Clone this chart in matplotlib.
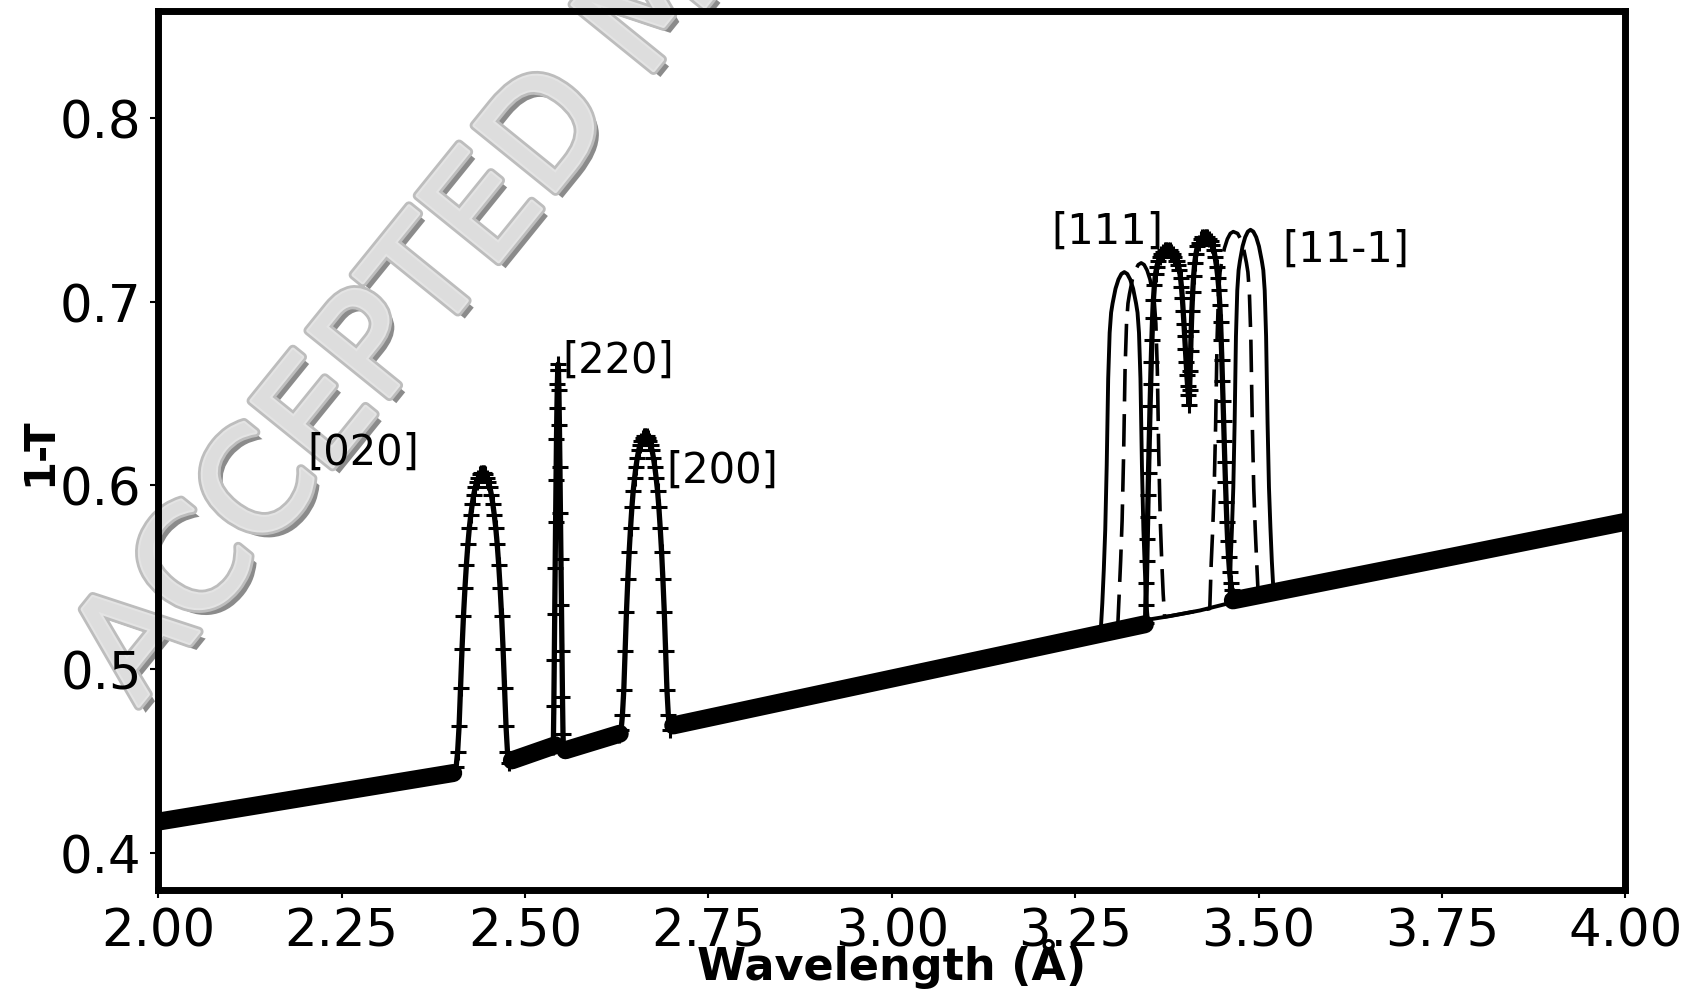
import numpy as np
import matplotlib.pyplot as plt
import matplotlib.patheffects as pe

# smooth absorption background (thick band); NaN breaks it under the Bragg peaks
base_lam = [2.000, 2.402, np.nan, 2.482, 2.541, np.nan, 2.555, 2.629, np.nan,
            2.702, 3.345, np.nan, 3.465, 3.763, 4.000]
base_tr = [0.4172, 0.4436, np.nan, 0.4505, 0.4587, np.nan, 0.4560, 0.4650, np.nan,
           0.4695, 0.5245, np.nan, 0.5375, 0.5612, 0.5802]

# [020] peak
lam_020 = [2.402, 2.406, 2.408, 2.410, 2.412, 2.414, 2.416, 2.418, 2.420, 2.422,
           2.424, 2.426, 2.428, 2.430, 2.432, 2.434, 2.436, 2.438, 2.440, 2.442,
           2.444, 2.446, 2.448, 2.450, 2.452, 2.454, 2.456, 2.458, 2.460, 2.462,
           2.464, 2.466, 2.468, 2.470, 2.472, 2.474, 2.476, 2.478, 2.482]
tr_020 = [0.444, 0.447, 0.455, 0.469, 0.490, 0.511, 0.529, 0.544, 0.557, 0.568,
          0.577, 0.584, 0.590, 0.595, 0.599, 0.602, 0.604, 0.606, 0.607, 0.607,
          0.607, 0.606, 0.604, 0.602, 0.599, 0.595, 0.590, 0.584, 0.577, 0.568,
          0.557, 0.544, 0.529, 0.511, 0.490, 0.469, 0.455, 0.449, 0.4505]

# [220] peak (very narrow)
lam_220 = [2.5385, 2.5392, 2.5398, 2.5404, 2.5410, 2.5416, 2.5422, 2.5428, 2.5434, 2.5440,
           2.5445, 2.5450, 2.5455, 2.5461, 2.5468, 2.5475, 2.5482, 2.5489, 2.5496, 2.5503,
           2.5510, 2.5517, 2.5524]
tr_220 = [0.458, 0.480, 0.505, 0.530, 0.555, 0.580, 0.603, 0.625, 0.642, 0.655,
          0.663, 0.666, 0.663, 0.652, 0.633, 0.610, 0.585, 0.560, 0.535, 0.510,
          0.485, 0.465, 0.456]

# [200] peak
lam_200 = [2.6280, 2.6309, 2.6327, 2.6346, 2.6364, 2.6382, 2.6401, 2.6419, 2.6438, 2.6456,
           2.6474, 2.6493, 2.6511, 2.6530, 2.6548, 2.6566, 2.6585, 2.6603, 2.6622, 2.6640,
           2.6658, 2.6677, 2.6695, 2.6714, 2.6732, 2.6750, 2.6769, 2.6787, 2.6806, 2.6824,
           2.6842, 2.6861, 2.6879, 2.6898, 2.6916, 2.6934, 2.6953, 2.6971, 2.7020]
tr_200 = [0.4645, 0.467, 0.475, 0.489, 0.510, 0.531, 0.549, 0.564, 0.577, 0.588,
          0.597, 0.604, 0.610, 0.615, 0.619, 0.622, 0.624, 0.626, 0.627, 0.627,
          0.627, 0.626, 0.624, 0.622, 0.619, 0.615, 0.610, 0.604, 0.597, 0.588,
          0.577, 0.564, 0.549, 0.531, 0.510, 0.489, 0.475, 0.467, 0.4695]

# [111] / [11-1] doublet, sample 1 (markers)
lam_111p = [3.3460, 3.3464, 3.3470, 3.3476, 3.3482, 3.3488, 3.3494, 3.3500, 3.3507, 3.3514,
            3.3521, 3.3529, 3.3537, 3.3546, 3.3556, 3.3567, 3.3580, 3.3596, 3.3614, 3.3634,
            3.3655, 3.3676, 3.3698, 3.3720, 3.3742, 3.3764, 3.3786, 3.3808, 3.3830, 3.3850,
            3.3870, 3.3888, 3.3906, 3.3922, 3.3936, 3.3949, 3.3961, 3.3972, 3.3983, 3.3993,
            3.4003, 3.4013, 3.4023, 3.4033, 3.4043, 3.4054, 3.4060, 3.4067, 3.4074, 3.4082,
            3.4091, 3.4102, 3.4115, 3.4130, 3.4147, 3.4166, 3.4187, 3.4209, 3.4232, 3.4255,
            3.4278, 3.4301, 3.4324, 3.4346, 3.4368, 3.4389, 3.4409, 3.4428, 3.4445, 3.4460,
            3.4472, 3.4482, 3.4491, 3.4500, 3.4508, 3.4516, 3.4524, 3.4532, 3.4540, 3.4549,
            3.4558, 3.4568, 3.4579, 3.4591, 3.4605, 3.4620, 3.4637, 3.4655, 3.4670]
tr_111p = [0.525, 0.535, 0.547, 0.559, 0.571, 0.583, 0.595, 0.607, 0.619, 0.631,
           0.643, 0.655, 0.667, 0.679, 0.691, 0.701, 0.709, 0.715, 0.719, 0.722,
           0.724, 0.726, 0.727, 0.728, 0.728, 0.728, 0.728, 0.727, 0.726, 0.724,
           0.722, 0.722, 0.720, 0.717, 0.713, 0.708, 0.702, 0.695, 0.688, 0.681,
           0.674, 0.667, 0.660, 0.654, 0.649, 0.644, 0.652, 0.662, 0.673, 0.684,
           0.695, 0.705, 0.714, 0.721, 0.726, 0.730, 0.732, 0.734, 0.735, 0.735,
           0.735, 0.735, 0.734, 0.733, 0.731, 0.728, 0.724, 0.719, 0.713, 0.706,
           0.698, 0.689, 0.679, 0.668, 0.657, 0.646, 0.635, 0.624, 0.613, 0.602,
           0.591, 0.580, 0.570, 0.561, 0.553, 0.547, 0.543, 0.540, 0.538]

# doublet, sample 2 (solid line)
lam_111s = [3.285, 3.287, 3.289, 3.291, 3.293, 3.295, 3.297, 3.299, 3.301, 3.305,
            3.309, 3.313, 3.317, 3.321, 3.325, 3.329, 3.333, 3.335, 3.337, 3.339,
            3.341, 3.343, 3.345, 3.347, 3.349, 3.380, 3.420, 3.4602, 3.4620, 3.4638,
            3.4656, 3.4674, 3.4692, 3.4710, 3.4728, 3.4746, 3.4782, 3.4818, 3.4854, 3.4890,
            3.4929, 3.4968, 3.5006, 3.5045, 3.5065, 3.5084, 3.5103, 3.5123, 3.5142, 3.5162,
            3.5181, 3.5200]
tr_111s = [0.522, 0.536, 0.554, 0.576, 0.611, 0.658, 0.683, 0.694, 0.699, 0.707,
           0.712, 0.715, 0.716, 0.715, 0.712, 0.707, 0.699, 0.694, 0.683, 0.658,
           0.611, 0.576, 0.554, 0.536, 0.527, 0.529, 0.532, 0.536, 0.559, 0.577,
           0.599, 0.634, 0.681, 0.706, 0.717, 0.722, 0.730, 0.735, 0.738, 0.739,
           0.738, 0.735, 0.730, 0.722, 0.717, 0.706, 0.681, 0.634, 0.599, 0.577,
           0.559, 0.545]

# doublet, sample 3 (dashed line)
lam_111d = [3.308, 3.310, 3.312, 3.314, 3.316, 3.318, 3.320, 3.322, 3.324, 3.328,
            3.332, 3.336, 3.340, 3.344, 3.348, 3.352, 3.356, 3.358, 3.360, 3.362,
            3.364, 3.366, 3.368, 3.370, 3.372, 3.400, 3.4335, 3.4355, 3.4375, 3.4395,
            3.4415, 3.4435, 3.4455, 3.4475, 3.4495, 3.4535, 3.4575, 3.4615, 3.4655, 3.4715,
            3.4755, 3.4795, 3.4835, 3.4855, 3.4875, 3.4895, 3.4915, 3.4935, 3.4955, 3.4975,
            3.4995]
tr_111d = [0.523, 0.541, 0.559, 0.581, 0.616, 0.663, 0.688, 0.699, 0.704, 0.712,
           0.717, 0.720, 0.721, 0.720, 0.717, 0.712, 0.704, 0.699, 0.688, 0.663,
           0.616, 0.581, 0.559, 0.541, 0.5285, 0.5305, 0.533, 0.558, 0.576, 0.598,
           0.633, 0.680, 0.705, 0.716, 0.721, 0.729, 0.734, 0.737, 0.738, 0.737,
           0.734, 0.729, 0.721, 0.716, 0.705, 0.680, 0.633, 0.598, 0.576, 0.558,
           0.541]

# peak labels: (text, wavelength, 1-T)
hkl_text = ['[020]', '[220]', '[200]', '[111]', '[11-1]']
hkl_lam = [2.203, 2.551, 2.692, 3.218, 3.532]
hkl_tr = [0.6184, 0.6683, 0.6085, 0.7385, 0.7286]

fig = plt.figure(figsize=(16.9, 9.95), dpi=100)
ax = fig.add_axes([0.0937, 0.1045, 0.8680, 0.8835])
ax.patch.set_alpha(0)  # let the watermark underneath show through

ax.plot(lam_111s, tr_111s, color='k', lw=2.8)
ax.plot(lam_111d, tr_111d, color='k', lw=2.6, dashes=(9, 3.5))
for lam, tr in [(lam_020, tr_020), (lam_220, tr_220), (lam_200, tr_200), (lam_111p, tr_111p)]:
    ax.plot(lam, tr, color='k', lw=3.8, marker='+', ms=11, mew=2.2)
ax.plot(base_lam, base_tr, color='k', lw=13, solid_capstyle='round')

for t, x, y in zip(hkl_text, hkl_lam, hkl_tr):
    ax.text(x, y, t, fontsize=30, ha='left', va='center')

ax.set_xlim(2.0, 4.0)
ax.set_ylim(0.380, 0.858)
ax.set_xticks(np.arange(2.0, 4.01, 0.25))
ax.set_yticks([0.4, 0.5, 0.6, 0.7, 0.8])
ax.tick_params(labelsize=37, width=1.5, length=6, pad=6)
for s in ax.spines.values():
    s.set_linewidth(5)

ax.set_xlabel('Wavelength (Å)', fontsize=32, fontweight='bold')
ax.xaxis.set_label_coords(0.5, -0.055)
ax.set_ylabel('1-T', fontsize=30, fontweight='bold')
ax.yaxis.set_label_coords(-0.067, 0.5)

# journal watermark, drawn beneath the plot
fig.text(0.0816, 0.2887, 'ACCEPTED MANUSCRIPT', fontsize=103, rotation=51,
         rotation_mode='anchor', ha='left', va='baseline', color='#dddddd', zorder=-1,
         path_effects=[pe.withSimplePatchShadow(offset=(5, -5), shadow_rgbFace='#7e7e7e', alpha=0.9),
                       pe.Stroke(linewidth=7, foreground='#bdbdbd'),
                       pe.Stroke(linewidth=3, foreground='#e4e4e4'), pe.Normal()])

fig.savefig('out.png', dpi=100)
